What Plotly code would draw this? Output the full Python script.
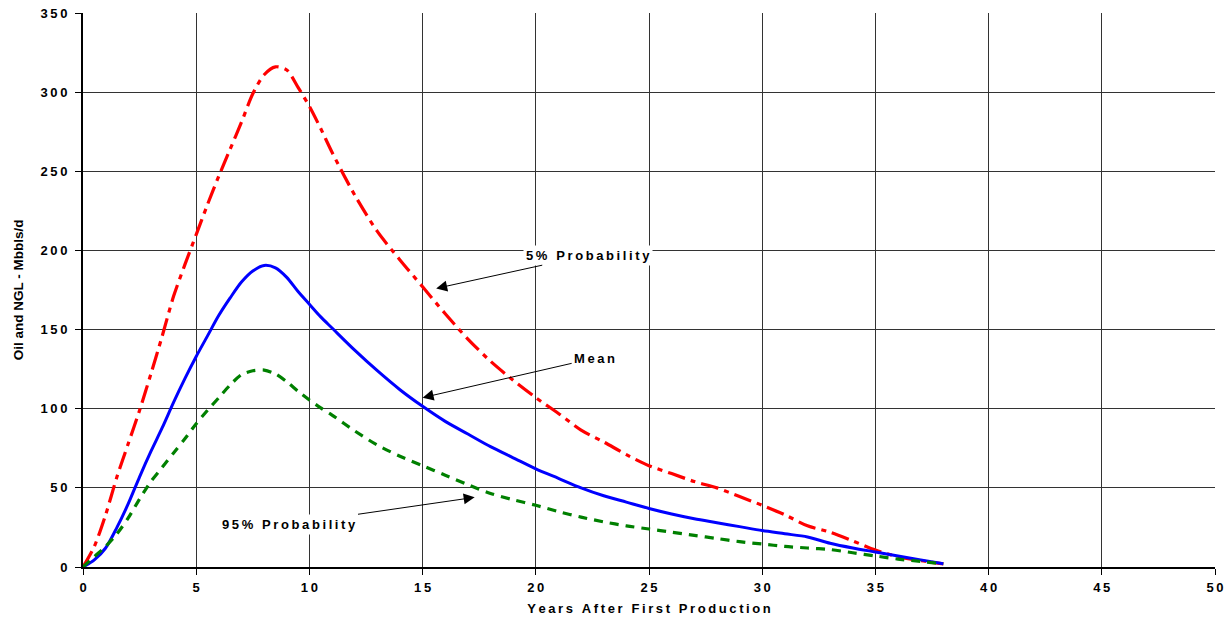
import plotly.graph_objects as go

# ---- data ----
years = [0, 0.5, 1, 1.5, 2, 2.5, 3, 3.5, 4, 4.5, 5, 5.5, 6, 6.5, 7, 7.5, 8, 8.5, 9, 9.5, 10, 10.5,
         11, 12, 13, 14, 15, 16, 17, 18, 19, 20, 21, 22, 23, 24, 25, 26, 27, 28,
         29, 30, 31, 32, 33, 34, 35, 36, 37, 38]

p5 = [0, 13, 33, 57, 78, 99, 122, 146, 171, 191, 210, 229, 247, 264, 281, 299, 311, 316, 314, 303, 291, 277,
      262, 235, 212, 194, 177, 160, 144, 130, 118, 107, 97, 86.5, 79, 71, 64, 59, 54, 50,
      44.5, 39, 33, 26, 22, 16.5, 10.7, 6.5, 4, 2]

mean = [0, 4.5, 12, 25, 40, 57, 73, 88, 104, 119, 133, 146, 159, 170, 180, 187, 190.5, 189, 183, 174, 166, 158,
        151, 137, 124, 112, 101.5, 92, 84, 76, 69, 62, 56, 50, 45, 41, 37, 33.5, 30.5, 28,
        25.5, 23, 21, 19, 15, 12, 9.5, 7, 4.5, 2]

p95 = [0, 6.5, 13, 21, 31, 43, 54, 63, 72, 81, 90.5, 99, 107, 115, 121.5, 124, 124.4, 122, 117, 111, 105.5, 100.5,
       96, 86, 77, 70, 64, 58, 52, 46.5, 42.5, 39, 35, 31.5, 28.5, 26, 24, 22, 20, 18,
       16, 14.5, 13, 12, 11, 9, 7, 5, 3.5, 2]

x_ticks = [0, 5, 10, 15, 20, 25, 30, 35, 40, 45, 50]
y_ticks = [0, 50, 100, 150, 200, 250, 300, 350]

x_title = "Years After First Production"
y_title = "Oil and NGL - Mbbls/d"

labels = ["5% Probability", "Mean", "95% Probability"]
label_tips = [(15.6, 176), (15.0, 107), (17.3, 44)]
label_pos = [(22.3, 197), (22.6, 132), (9.1, 27)]

TS = "\u2009"


def spaced(s):
    return TS.join(list(s))


FONT = "Liberation Sans, Arial, sans-serif"

fig = go.Figure()
fig.add_trace(go.Scatter(x=years, y=p5, mode="lines", name="5% Probability",
                         line=dict(color="#ff0000", width=3.2, dash="18px,6px,5px,6px", shape="spline", smoothing=0.8)))
fig.add_trace(go.Scatter(x=years, y=mean, mode="lines", name="Mean",
                         line=dict(color="#0000ff", width=3, shape="spline", smoothing=0.8)))
fig.add_trace(go.Scatter(x=years, y=p95, mode="lines", name="95% Probability",
                         line=dict(color="#008000", width=3.2, dash="9px,7px", shape="spline", smoothing=0.8)))

for txt, (tx, ty), (px, py) in zip(labels, label_tips, label_pos):
    fig.add_annotation(x=tx, y=ty, ax=px, ay=py, xref="x", yref="y", axref="x", ayref="y",
                       text=spaced(txt), showarrow=True, arrowhead=2, arrowsize=2.2,
                       arrowwidth=1, arrowcolor="#000000", bgcolor="#ffffff",
                       font=dict(family=FONT, size=13, color="#000000", weight="bold"),
                       borderpad=2)

fig.update_layout(
    width=1229, height=620,
    margin=dict(l=83, r=14, t=13, b=53, autoexpand=False),
    paper_bgcolor="#ffffff", plot_bgcolor="#ffffff",
    showlegend=False,
    font=dict(family=FONT, size=13, color="#000000", weight="bold"),
)
fig.update_xaxes(
    range=[0, 50], tickvals=x_ticks, ticktext=[spaced(str(v)) for v in x_ticks],
    showgrid=True, gridcolor="#333333", gridwidth=1,
    showline=True, linecolor="#000000", linewidth=2,
    ticks="outside", ticklen=6, tickcolor="#000000", tickwidth=1,
    ticklabelstandoff=1, ticklabeloverflow="allow",
    zeroline=False, automargin=False,
    title=dict(text=spaced(x_title), font=dict(family=FONT, size=13, weight="bold"), standoff=10),
    tickfont=dict(family=FONT, size=13, weight="bold"),
)
fig.update_yaxes(
    range=[0, 350], tickvals=y_ticks, ticktext=[spaced(str(v)) for v in y_ticks],
    showgrid=True, gridcolor="#333333", gridwidth=1,
    showline=True, linecolor="#000000", linewidth=2,
    ticks="outside", ticklen=6, tickcolor="#000000", tickwidth=1,
    ticklabelstandoff=5, ticklabeloverflow="allow",
    zeroline=False, automargin=False,
    title=dict(text=y_title, font=dict(family=FONT, size=13.5, weight="bold"), standoff=14),
    tickfont=dict(family=FONT, size=13, weight="bold"),
)

# remove the default 8px page margin so the figure sits at the window's top-left corner
fig.write_html("out.html", config={"displayModeBar": False},
               post_script="document.body.style.margin='0';")
